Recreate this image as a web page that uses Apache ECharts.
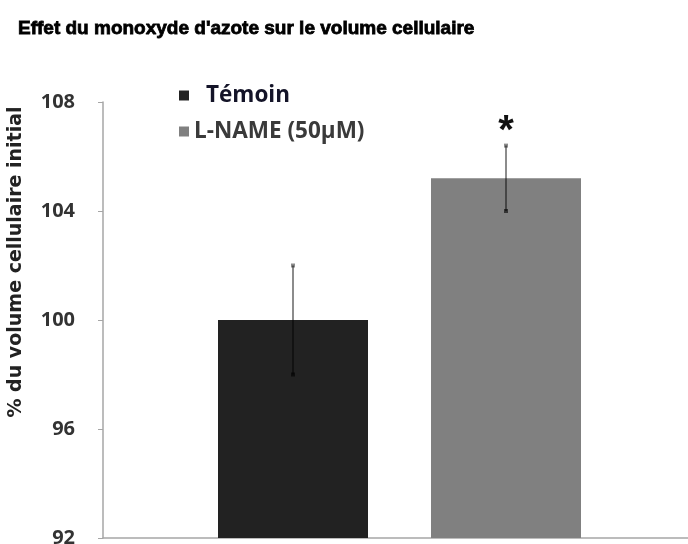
<!DOCTYPE html>
<html>
<head>
<meta charset="utf-8">
<script src="https://cdn.jsdelivr.net/npm/echarts@6/dist/echarts.min.js"></script>
<style>
  html, body { margin: 0; padding: 0; background: #fff; }
  #chart { width: 688px; height: 544px; }
</style>
</head>
<body>
<div id="chart"></div>
<script>
// data
var seriesNames = ['Témoin', 'L-NAME (50µM)'];
var means = [100.0, 105.2];
var errors = [2.0, 1.2];
var signif = ['', '*'];
var barColors = ['#222222', '#808080'];

var BAR_W = 150;
var BAR_GAP = 63; // px between the two bars

var chart = echarts.init(document.getElementById('chart'));

var barSeries = seriesNames.map(function(name, i) {
    return {
        name: name,
        type: 'bar',
        data: [means[i]],
        barWidth: BAR_W,
        barGap: (BAR_GAP / BAR_W * 100).toFixed(0) + '%',
        itemStyle: { color: barColors[i] },
        silent: true
    };
});

// error bars + significance star, drawn over the bars
var errSeries = {
    type: 'custom',
    silent: true,
    z: 5,
    data: means.map(function(m, i) { return [0, m, errors[i], i]; }),
    renderItem: function(params, api) {
        var idx = api.value(3);
        var off = (idx - 0.5) * (BAR_W + BAR_GAP);
        var hi = api.coord([0, api.value(1) + api.value(2)]);
        var lo = api.coord([0, api.value(1) - api.value(2)]);
        var x = hi[0] + off;
        var children = [
            { type: 'line', shape: { x1: x, y1: hi[1], x2: x, y2: lo[1] },
              style: { stroke: 'rgba(0,0,0,0.45)', lineWidth: 2 } },
            { type: 'rect', shape: { x: x - 2, y: hi[1] - 2, width: 4, height: 4 },
              style: { fill: 'rgba(0,0,0,0.45)' } },
            { type: 'rect', shape: { x: x - 2, y: lo[1] - 2, width: 4, height: 4 },
              style: { fill: 'rgba(0,0,0,0.6)' } }
        ];
        if (signif[idx]) {
            children.push({
                type: 'text',
                style: {
                    text: signif[idx], x: x, y: hi[1] + 6,
                    align: 'center', verticalAlign: 'bottom',
                    font: 'bold 40px "Liberation Sans"', fill: '#111'
                }
            });
        }
        return { type: 'group', children: children };
    }
};

chart.setOption({
    animation: false,
    title: {
        text: "Effet du monoxyde d'azote sur le volume cellulaire",
        left: 13, top: 14,
        textStyle: { fontFamily: 'Liberation Sans', fontWeight: 'bold', fontSize: 19,
                     color: '#000', textBorderColor: '#000', textBorderWidth: 0.8 }
    },
    legend: [{
        data: [seriesNames[0]],
        left: 174, top: 79,
        itemWidth: 10, itemHeight: 10,
        icon: 'rect',
        textStyle: { fontFamily: 'Open Sans', fontWeight: 'bold', fontSize: 22.5,
                     color: '#141428', padding: [0, 0, 0, 12] }
    }, {
        data: [seriesNames[1]],
        left: 174, top: 115,
        itemWidth: 10, itemHeight: 10,
        icon: 'rect',
        textStyle: { fontFamily: 'Open Sans', fontWeight: 'bold', fontSize: 22.5,
                     color: '#3a3a3a', padding: [0, 0, 0, 0] }
    }],
    grid: { left: 103, right: -8, top: 102, bottom: 6, outerBoundsMode: 'none' },
    xAxis: {
        type: 'category',
        data: [''],
        axisLine: { lineStyle: { color: '#a6a6a6', width: 1.5 } },
        axisTick: { show: false },
        axisLabel: { show: false }
    },
    yAxis: {
        type: 'value',
        min: 92, max: 108, interval: 4,
        name: '% du volume cellulaire initial',
        nameLocation: 'middle',
        nameGap: 77,
        nameTextStyle: { fontFamily: 'DejaVu Sans', fontWeight: 'bold', fontSize: 19,
                         color: '#222', padding: [0, 0, 0, 116] },
        axisLine: { show: true, lineStyle: { color: '#a6a6a6', width: 1.5 } },
        axisTick: { show: true, length: 5, lineStyle: { color: '#a6a6a6' } },
        axisLabel: { margin: 28, fontFamily: 'Open Sans', fontWeight: 'bold',
                     fontSize: 20, color: '#333' },
        splitLine: { show: false }
    },
    series: barSeries.concat([errSeries])
});
</script>
</body>
</html>
